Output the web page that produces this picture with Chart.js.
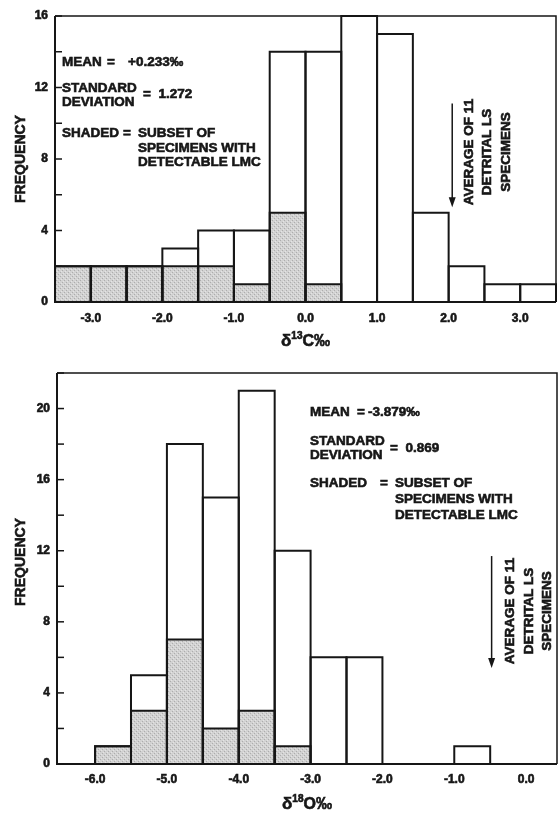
<!DOCTYPE html>
<html>
<head>
<meta charset="utf-8">
<script src="https://cdn.jsdelivr.net/npm/chart.js@4.4.1/dist/chart.umd.min.js"></script>
<style>
  html, body { margin: 0; padding: 0; background: #fff; }
  #wrap { position: relative; width: 558px; height: 813px; }
  #c13 { position: absolute; left: 0; top: 0; }
  #c18 { position: absolute; left: 0; top: 355px; }
</style>
</head>
<body>
<div id="wrap">
  <canvas id="c13" width="558" height="355"></canvas>
  <canvas id="c18" width="558" height="458"></canvas>
</div>
<script>
// d13C histogram, 0.5 per mil bins (bin centres)
const c13Bins = [-3.25, -2.75, -2.25, -1.75, -1.25, -0.75, -0.25, 0.25, 0.75, 1.25, 1.75, 2.25, 2.75, 3.25];
const c13All  = [2, 2, 2, 3, 4, 4, 14, 14, 16, 15, 5, 2, 1, 1];
const c13Lmc  = [2, 2, 2, 2, 2, 1, 5, 1, 0, 0, 0, 0, 0, 0];
const c13XTicks = [-3, -2, -1, 0, 1, 2, 3];
const c13YLabels = [0, 4, 8, 12, 16];
const c13Detrital = 2.05;

// d18O histogram
const o18Bins = [-5.75, -5.25, -4.75, -4.25, -3.75, -3.25, -2.75, -2.25, -1.75, -1.25, -0.75];
const o18All  = [1, 5, 18, 15, 21, 12, 6, 6, 0, 0, 1];
const o18Lmc  = [1, 3, 7, 2, 3, 1, 0, 0, 0, 0, 0];
const o18XTicks = [-6, -5, -4, -3, -2, -1, 0];
const o18YLabels = [0, 4, 8, 12, 16, 20];
const o18Detrital = -0.48;

const FONT = "'Liberation Sans', Arial, Helvetica, sans-serif";
const INK = '#161616';

function makeShade() {
  const p = document.createElement('canvas');
  p.width = 4; p.height = 4;
  const g = p.getContext('2d');
  g.fillStyle = '#d2d2d2'; g.fillRect(0, 0, 4, 4);
  g.fillStyle = '#adadad'; g.fillRect(0, 0, 1, 1); g.fillRect(2, 2, 1, 1);
  g.fillStyle = '#e4e4e4'; g.fillRect(1, 3, 1, 1); g.fillRect(3, 1, 1, 1);
  return g.createPattern(p, 'repeat');
}

// bold text, thickened a little to look like the printed figure
function txt(ctx, s, x, y, size) {
  ctx.font = `bold ${size || 13.5}px ${FONT}`;
  ctx.lineWidth = 0.6;
  ctx.strokeText(s, x, y);
  ctx.fillText(s, x, y);
}

const histPlugin = {
  id: 'histo',
  afterDatasetsDraw(chart) {
    const ctx = chart.ctx;
    ctx.save();
    ctx.strokeStyle = INK;
    ctx.lineWidth = 2;
    [1, 0].forEach(i => {
      chart.getDatasetMeta(i).data.forEach(el => {
        const { x, y, base, width } = el.getProps(['x', 'y', 'base', 'width'], true);
        if (base - y < 0.5) return;
        ctx.beginPath();
        ctx.moveTo(x - width / 2, base);
        ctx.lineTo(x - width / 2, y);
        ctx.lineTo(x + width / 2, y);
        ctx.lineTo(x + width / 2, base);
        ctx.stroke();
      });
    });
    ctx.restore();
  },
  afterDraw(chart, args, o) {
    const ctx = chart.ctx;
    const a = chart.chartArea;
    const xs = chart.scales.x, ys = chart.scales.y;
    ctx.save();
    ctx.strokeStyle = INK;
    ctx.fillStyle = INK;

    // frame
    ctx.lineWidth = 1.5;
    ctx.beginPath();
    ctx.moveTo(a.left, a.top); ctx.lineTo(a.right, a.top); ctx.lineTo(a.right, a.bottom);
    ctx.stroke();
    ctx.lineWidth = 2;
    ctx.beginPath();
    ctx.moveTo(a.left, a.top); ctx.lineTo(a.left, a.bottom); ctx.lineTo(a.right, a.bottom);
    ctx.stroke();

    // inward y ticks
    ctx.lineWidth = 1.5;
    ys.ticks.forEach(t => {
      const py = ys.getPixelForValue(t.value);
      ctx.beginPath();
      ctx.moveTo(a.left, py); ctx.lineTo(a.left + 7, py);
      ctx.stroke();
    });

    // y title
    ctx.save();
    ctx.translate(21, o.freqY);
    ctx.rotate(-Math.PI / 2);
    ctx.textAlign = 'center';
    ctx.textBaseline = 'middle';
    txt(ctx, 'FREQUENCY', 0, 0, 14);
    ctx.restore();

    // x title with superscript
    ctx.textBaseline = 'alphabetic';
    ctx.font = `bold 17px ${FONT}`;
    const w1 = ctx.measureText('δ').width;
    ctx.font = `bold 10px ${FONT}`;
    const w2 = ctx.measureText(o.sup).width;
    ctx.font = `bold 16px ${FONT}`;
    const w3 = ctx.measureText(o.tail).width;
    let tx = (a.left + a.right) / 2 - (w1 + w2 + w3) / 2;
    const ty = o.titleY;
    ctx.textAlign = 'left';
    txt(ctx, 'δ', tx, ty, 17); tx += w1;
    txt(ctx, o.sup, tx, ty - 7, 10); tx += w2;
    txt(ctx, o.tail, tx, ty, 16);

    // statistics block
    ctx.textBaseline = 'middle';
    o.notes.forEach(n => txt(ctx, n[0], n[1], n[2], n[3]));

    // arrow for detrital average
    const ax = xs.getPixelForValue(o.arrow[0]);
    const ay0 = ys.getPixelForValue(o.arrow[1]);
    const ay1 = ys.getPixelForValue(o.arrow[2]);
    ctx.lineWidth = 1.5;
    ctx.beginPath();
    ctx.moveTo(ax, ay0); ctx.lineTo(ax, ay1 - 8);
    ctx.stroke();
    ctx.beginPath();
    ctx.moveTo(ax - 3.5, ay1 - 10); ctx.lineTo(ax + 3.5, ay1 - 10); ctx.lineTo(ax, ay1);
    ctx.closePath();
    ctx.fill();

    // rotated label
    ctx.save();
    ctx.translate(ax, o.rotY);
    ctx.rotate(-Math.PI / 2);
    ctx.textAlign = 'center';
    ['AVERAGE OF 11', 'DETRITAL LS', 'SPECIMENS'].forEach((s, i) => {
      txt(ctx, s, 0, o.rotDx + i * 18.5, 13.5);
    });
    ctx.restore();

    ctx.restore();
  }
};

function makeHist(id, o) {
  const shade = makeShade();
  const tickFont = { family: FONT, size: 12, weight: 'bold' };
  return new Chart(document.getElementById(id), {
    type: 'bar',
    data: {
      datasets: [
        { data: o.bins.map((x, i) => ({ x, y: o.lmc[i] })), backgroundColor: shade, borderWidth: 0 },
        { data: o.bins.map((x, i) => ({ x, y: o.all[i] })), backgroundColor: '#ffffff', borderWidth: 0 }
      ]
    },
    options: {
      responsive: false,
      animation: false,
      events: [],
      layout: { padding: o.pad },
      datasets: { bar: { grouped: false, barPercentage: 1, categoryPercentage: 1, inflateAmount: 0 } },
      plugins: { legend: { display: false }, tooltip: { enabled: false }, histo: o },
      scales: {
        x: {
          type: 'linear', min: o.xMin, max: o.xMax, offset: false,
          afterBuildTicks: s => { s.ticks = o.xTicks.map(v => ({ value: v })); },
          afterFit: s => { s.height = o.xH; },
          grid: { display: false, drawTicks: false },
          border: { display: false },
          ticks: { autoSkip: false, maxRotation: 0, padding: o.xPad, color: INK, font: tickFont,
                   textStrokeColor: INK, textStrokeWidth: 0.6,
                   callback: v => v.toFixed(1) }
        },
        y: {
          min: 0, max: o.yMax,
          afterFit: s => { s.width = o.yW; },
          grid: { display: false, drawTicks: false },
          border: { display: false },
          ticks: { stepSize: 2, autoSkip: false, padding: 7, color: INK, font: tickFont,
                   textStrokeColor: INK, textStrokeWidth: 0.6,
                   callback: v => o.yLabels.includes(v) ? v : '' }
        }
      }
    },
    plugins: [histPlugin]
  });
}

makeHist('c13', {
  bins: c13Bins, all: c13All, lmc: c13Lmc, xTicks: c13XTicks, yLabels: c13YLabels,
  xMin: -3.5, xMax: 3.5, yMax: 16,
  pad: { top: 16, right: 2, left: 0, bottom: 0 }, yW: 55, xH: 53, xPad: 9,
  freqY: 159, titleY: 346, sup: '13', tail: 'C‰',
  arrow: [c13Detrital, 11.1, 5.3], rotY: 152, rotDx: 17,
  notes: [
    ['MEAN', 62, 62], ['=', 107, 62], ['+0.233‰', 128, 62],
    ['STANDARD', 62, 88], ['DEVIATION', 62, 102], ['=  1.272', 143, 94],
    ['SHADED', 62, 133], ['=', 123, 133], ['SUBSET OF', 138, 133],
    ['SPECIMENS WITH', 138, 148], ['DETECTABLE LMC', 138, 162]
  ]
});

makeHist('c18', {
  bins: o18Bins, all: o18All, lmc: o18Lmc, xTicks: o18XTicks, yLabels: o18YLabels,
  xMin: -6.53, xMax: 0.43, yMax: 22,
  pad: { top: 18, right: 1, left: 0, bottom: 0 }, yW: 57, xH: 49, xPad: 8,
  freqY: 207, titleY: 454, sup: '18', tail: 'O‰',
  arrow: [o18Detrital, 11.7, 5.4], rotY: 256, rotDx: 19,
  notes: [
    ['MEAN', 310, 57], ['=', 357, 57], ['-3.879‰', 368, 57],
    ['STANDARD', 310, 86], ['DEVIATION', 310, 100], ['=  0.869', 390, 93],
    ['SHADED', 310, 128], ['=', 380, 128], ['SUBSET OF', 395, 128],
    ['SPECIMENS WITH', 395, 144], ['DETECTABLE LMC', 395, 160]
  ]
});
</script>
</body>
</html>
